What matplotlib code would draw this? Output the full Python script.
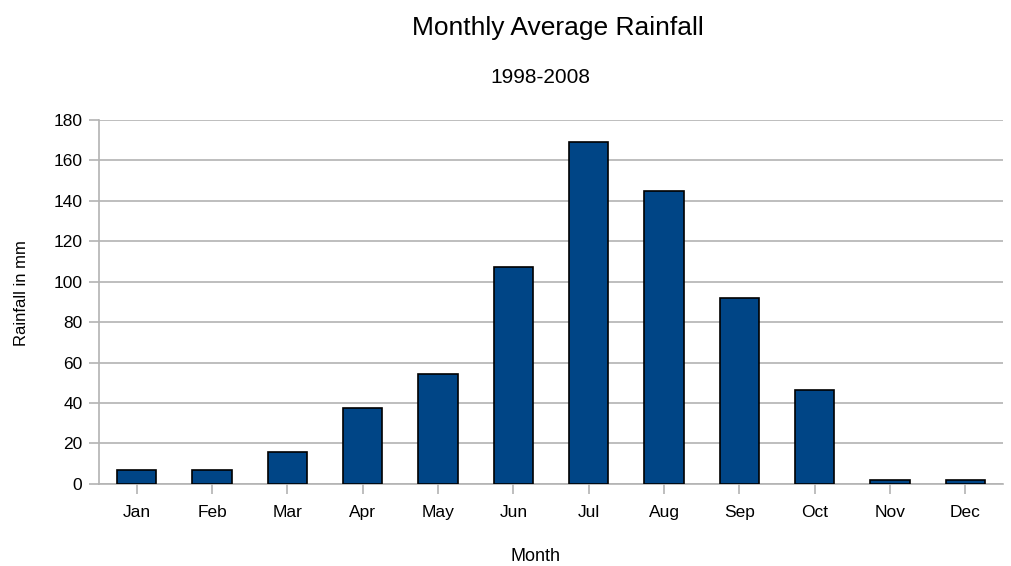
import matplotlib.pyplot as plt

# Monthly rainfall data (mm)
months = ['Jan', 'Feb', 'Mar', 'Apr', 'May', 'Jun', 'Jul', 'Aug', 'Sep', 'Oct', 'Nov', 'Dec']
rainfall = [7, 7, 16, 37.5, 54.5, 107.5, 169, 145, 92, 46.5, 2, 2]

plt.rcParams['font.family'] = ['Liberation Sans', 'DejaVu Sans']

fig = plt.figure(figsize=(10.11, 5.66), dpi=100)
ax = fig.add_axes([0.098, 0.145, 0.894, 0.643])

x = range(len(months))
ax.bar(x, rainfall, width=0.52, color='#004586', edgecolor='black', linewidth=1.2, zorder=3)

ax.set_xlim(-0.5, len(months) - 0.5)
ax.set_ylim(0, 180)
ax.set_yticks(range(0, 181, 20))
ax.set_xticks(list(x))
ax.set_xticklabels(months)

ax.grid(axis='y', color='#b3b3b3', linewidth=1.2, zorder=0)
for side in ['top', 'right']:
    ax.spines[side].set_visible(False)
ax.spines['left'].set_color('#b3b3b3')
ax.spines['bottom'].set_color('#b3b3b3')
ax.spines['left'].set_linewidth(1.2)
ax.spines['bottom'].set_linewidth(1.2)
ax.tick_params(axis='x', length=7, width=1.2, color='#b3b3b3', labelsize=12.5, pad=8)
ax.tick_params(axis='y', length=7, width=1.2, color='#b3b3b3', labelsize=12.5, pad=5)

# axis titles and headings placed like the original
fig.text(535 / 1011, 0.008, 'Month', ha='center', va='baseline', fontsize=13)
fig.text(22 / 1011, 1 - 293 / 566, 'Rainfall in mm', ha='center', va='center',
         rotation=90, fontsize=12)
fig.text(558 / 1011, 1 - 35 / 566, 'Monthly Average Rainfall', ha='center', va='baseline', fontsize=19)
fig.text(540 / 1011, 1 - 83 / 566, '1998-2008', ha='center', va='baseline', fontsize=15)

fig.savefig('out.png', dpi=100)
